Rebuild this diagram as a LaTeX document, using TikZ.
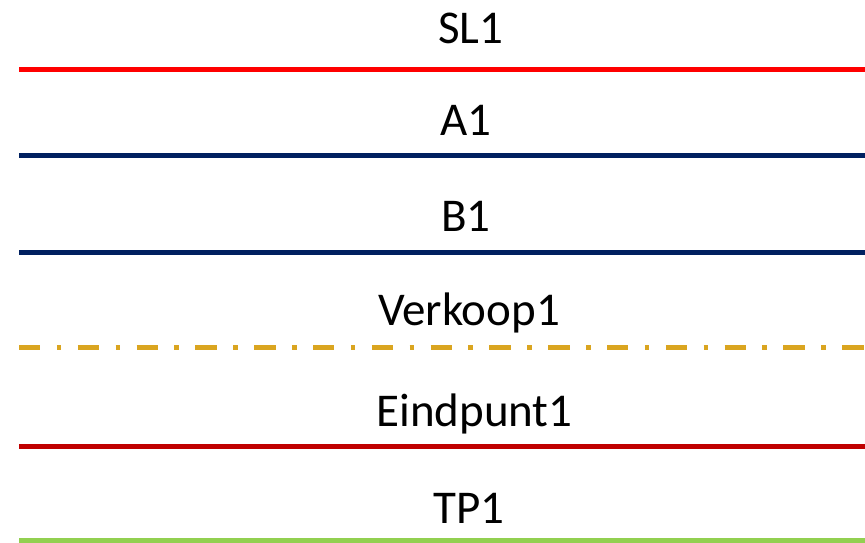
\documentclass[tikz,border=0pt]{standalone}
\usepackage{fontspec}
\setmainfont{Carlito}
\usepackage{tikz}
\usetikzlibrary{positioning,calc}
\definecolor{slred}{RGB}{255, 0, 0}
\definecolor{navy}{RGB}{0, 32, 96}
\definecolor{gold}{RGB}{218, 165, 32}
\definecolor{darkred}{RGB}{192, 0, 0}
\definecolor{lightgreen}{RGB}{146, 208, 80}

\begin{document}
\begin{tikzpicture}[x=1pt,y=-1pt,line width = 5pt,
	lbl/.style={anchor=base,inner sep=0pt,font=\fontsize{47}{56}\selectfont}]
	\useasboundingbox (0,0) rectangle (865,542);
	
	\node[lbl] (sl) at(471,43.5) {SL1};
	\node[lbl] (a) at(466,135) {A1};
	\node[lbl] (b) at(466,231.5) {B1};
	\node[lbl] (verkoop) at(469,325) {Verkoop1};
	\node[lbl] (eindpunt) at(474.5,426.5) {Eindpunt1};
	\node[lbl] (tp) at(469,523.5) {TP1};
	
	\coordinate (sll) at(19,69.3);
	\coordinate (slr) at(865,69.3);
	\coordinate (al) at(19,155);
	\coordinate (ar) at(865,155);
	\coordinate (bl) at(19,252);
	\coordinate (br) at(865,252);
	\coordinate (verkoopl) at(19,347.7);
	\coordinate (verkoopr) at(865,347.7);
	\coordinate (eindpuntl) at(19,446.7);
	\coordinate (eindpuntr) at(865,446.7);
	\coordinate (tpl) at(19,540.3);
	\coordinate (tpr) at(865,540.3);
	
	
	\draw [slred] (sll) -- (slr);
	\draw [navy] (al) -- (ar);
	\draw [navy] (bl) -- (br);
	\draw [gold,dash pattern=on 21.3pt off 16.5pt on 4.5pt off 16.5pt] (verkoopl) -- (verkoopr);
	\draw [darkred] (eindpuntl) -- (eindpuntr);
	\draw [lightgreen] (tpl) -- (tpr);
	
	
\end{tikzpicture}
\end{document}
